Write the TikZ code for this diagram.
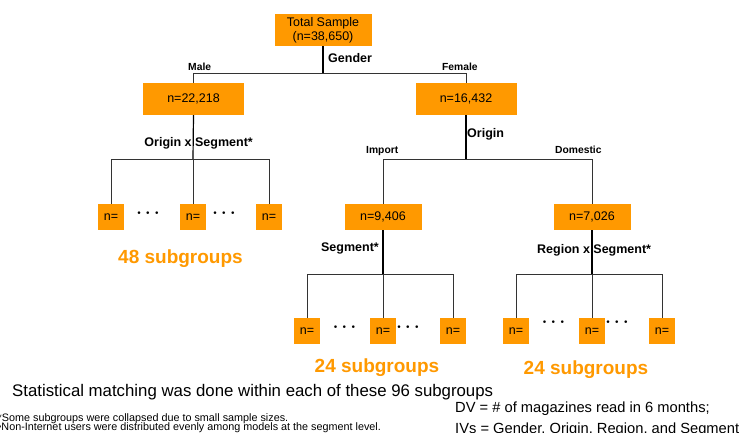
\documentclass[tikz,border=0pt]{standalone}
\usepackage{fontspec}
\setmainfont{Liberation Sans}
\definecolor{og}{HTML}{FF9900}
\definecolor{ln}{HTML}{333333}
\begin{document}
\begin{tikzpicture}[x=1pt,y=-1pt,
  box/.style={fill=og, inner sep=0pt, minimum height=32, align=center, font=\fontsize{12.5}{14}\selectfont},
  midbox/.style={box, minimum width=101, minimum height=32},
  lowbox/.style={box, minimum width=77, minimum height=26},
  nbox/.style={box, minimum width=26, minimum height=26},
  lab/.style={inner sep=0pt, font=\fontsize{12.5}{14}\selectfont\bfseries},
  slab/.style={inner sep=0pt, font=\fontsize{10.3}{12}\selectfont\bfseries},
  sub/.style={inner sep=0pt, anchor=base, text=og, font=\fontsize{19}{22}\selectfont\bfseries},
  dots/.style={inner sep=0pt, font=\fontsize{17}{18}\selectfont\boldmath},
  pline/.style={draw=black, line width=1.2pt},
  cline/.style={draw=ln, line width=0.9pt},
  txt/.style={inner sep=0pt, anchor=base west}]
\useasboundingbox (0,0) rectangle (740,432);
\clip (0,0) rectangle (740,432);
\fill[white] (0,0) rectangle (740,432);

% nodes
\node[box, minimum width=97] (top) at (323,30) {Total Sample\\(n=38,650)};
\node[midbox] (male) at (193.5,99) {n=22,218};
\node[midbox] (female) at (466,99) {n=16,432};
\node[lowbox] (imp) at (383,217) {n=9,406};
\node[lowbox] (dom) at (592,217) {n=7,026};
\node[nbox] (m1) at (111,217) {n=};
\node[nbox] (m2) at (193,217) {n=};
\node[nbox] (m3) at (269,217) {n=};
\node[nbox] (i1) at (307,331) {n=};
\node[nbox] (i2) at (383,331) {n=};
\node[nbox] (i3) at (453,331) {n=};
\node[nbox] (d1) at (516,331) {n=};
\node[nbox] (d2) at (592,331) {n=};
\node[nbox] (d3) at (662,331) {n=};

% junctions
\coordinate (j0) at (323,73);
\coordinate (j1) at (193,159);
\coordinate (j2) at (466,159);
\coordinate (j3) at (383,274);
\coordinate (j4) at (592,274);

% connectors
\draw[pline] (top.south) -- (j0);
\draw[cline] (j0 -| male) -- (j0 -| female);
\draw[cline] (j0 -| male) -- (male.north);
\draw[cline] (j0 -| female) -- (female.north);

\draw[pline] (male.south) -- (j1);
\draw[cline] (j1 -| m1) -- (j1 -| m3);
\draw[cline] (j1 -| m1) -- (m1.north);
\draw[cline] (j1) -- (m2.north);
\draw[cline] (j1 -| m3) -- (m3.north);

\draw[pline] (female.south) -- (j2);
\draw[cline] (j2 -| imp) -- (j2 -| dom);
\draw[cline] (j2 -| imp) -- (imp.north);
\draw[cline] (j2 -| dom) -- (dom.north);

\draw[pline] (imp.south) -- (j3);
\draw[cline] (j3 -| i1) -- (j3 -| i3);
\draw[cline] (j3 -| i1) -- (i1.north);
\draw[cline] (j3) -- (i2.north);
\draw[cline] (j3 -| i3) -- (i3.north);

\draw[pline] (dom.south) -- (j4);
\draw[cline] (j4 -| d1) -- (j4 -| d3);
\draw[cline] (j4 -| d1) -- (d1.north);
\draw[cline] (j4) -- (d2.north);
\draw[cline] (j4 -| d3) -- (d3.north);

% labels
\node[lab, anchor=base west] (lgender) at (328,62) {Gender};
\node[slab, anchor=base west] (lmale) at (188,70.5) {Male};
\node[slab, anchor=base west] (lfemale) at (442,70.5) {Female};
\node[lab, anchor=base east] (lorsg) at (253,146) {Origin x Segment*};
\node[lab, anchor=base west] (lorigin) at (467,137) {Origin};
\node[slab, anchor=base west] (limport) at (366,153) {Import};
\node[slab, anchor=base west] (ldom) at (555,153) {Domestic};
\node[lab, anchor=base east] (lseg) at (379,251) {Segment*};
\node[lab, anchor=base west] (lregseg) at (537,253) {Region x Segment*};

% dots
\node[dots] (dt1) at (148,213) {$\cdots$};
\node[dots] (dt2) at (224,213) {$\cdots$};
\node[dots] (dt3) at (344.5,327) {$\cdots$};
\node[dots] (dt4) at (408,327) {$\cdots$};
\node[dots] (dt5) at (553.5,322) {$\cdots$};
\node[dots] (dt6) at (617,322) {$\cdots$};

% subgroup counts
\node[sub] (s48) at (180.5,263) {48 subgroups};
\node[sub] (s24a) at (377,372) {24 subgroups};
\node[sub] (s24b) at (586,374) {24 subgroups};

% bottom texts
\node[txt, font=\fontsize{16.8}{18}\selectfont] (stat) at (12,396) {Statistical matching was done within each of these 96 subgroups};
\node[txt, font=\fontsize{10.8}{12}\selectfont] (fn1) at (-2.5,421) {*Some subgroups were collapsed due to small sample sizes.};
\node[txt, font=\fontsize{10.8}{12}\selectfont] (fn2) at (-2.5,430.5) {•Non-Internet users were distributed evenly among models at the segment level.};
\node[txt, font=\fontsize{14.7}{16}\selectfont] (dv) at (455,412) {DV = \# of magazines read in 6 months;};
\node[txt, font=\fontsize{14.7}{16}\selectfont] (iv) at (455,433) {IVs = Gender, Origin, Region, and Segment};
\end{tikzpicture}
\end{document}
